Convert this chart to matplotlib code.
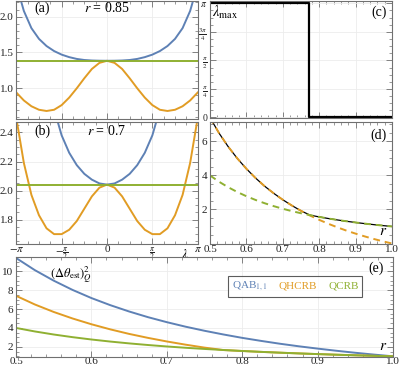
import matplotlib
matplotlib.use('Agg')
import matplotlib.pyplot as plt
import numpy as np
from matplotlib.ticker import MultipleLocator, FixedLocator, NullFormatter

plt.rcParams['font.family'] = ['Liberation Serif', 'DejaVu Serif']
plt.rcParams['mathtext.fontset'] = 'stix'

# --- data ---
# lambda grid in units of pi/12
lam_k = list(range(-12, 13))

# panel (a), r = 0.85  (values for lambda = 0 ... pi, mirrored)
a_qab_half = [1.384, 1.385, 1.388, 1.395, 1.41, 1.435, 1.47, 1.52, 1.59, 1.69, 1.84, 2.08, 2.45]
a_qhcrb_half = [1.384, 1.355, 1.27, 1.14, 1.00, 0.87, 0.765, 0.70, 0.683, 0.70, 0.749, 0.83, 0.941]
a_qcrb = 1.384

# panel (b), r = 0.7
b_qab_half = [2.041, 2.049, 2.075, 2.115, 2.175, 2.26, 2.38, 2.56, 2.8, 3.1, 3.5, 4.0, 4.6]
b_qhcrb_half = [2.041, 2.02, 1.96, 1.875, 1.79, 1.73, 1.70, 1.70, 1.74, 1.83, 1.97, 2.19, 2.50]
b_qcrb = 2.041

# r grid for (c), (d), (e)
r = [0.5, 0.525, 0.55, 0.575, 0.6, 0.625, 0.65, 0.675, 0.7, 0.725, 0.75, 0.775,
     0.8, 0.825, 0.85, 0.875, 0.9, 0.925, 0.95, 0.975, 1.0]
qcrb = [4.0, 3.628, 3.306, 3.025, 2.778, 2.56, 2.367, 2.195, 2.041, 1.902, 1.778, 1.665,
        1.5625, 1.469, 1.384, 1.306, 1.235, 1.169, 1.108, 1.052, 1.0]
holevo_pi = [7.40, 6.48, 5.69, 5.00, 4.39, 3.85, 3.37, 2.95, 2.57, 2.23, 1.92, 1.64,
             1.39, 1.16, 0.95, 0.755, 0.58, 0.417, 0.266, 0.128, 0.0]
qhcrb = [7.40, 6.48, 5.69, 5.00, 4.39, 3.85, 3.37, 2.95, 2.57, 2.23, 1.92, 1.665,
         1.5625, 1.469, 1.384, 1.306, 1.235, 1.169, 1.108, 1.052, 1.0]
qab = [11.40, 10.11, 9.00, 8.02, 7.16, 6.41, 5.74, 5.14, 4.61, 4.13, 3.70, 3.31,
       2.95, 2.63, 2.33, 2.06, 1.815, 1.586, 1.374, 1.18, 1.0]
# panel (c): lambda_max switches from pi to 0
r_switch = 0.772
c_r = [0.5, r_switch, r_switch, 1.0]
c_lmax = [np.pi, np.pi, 0.0, 0.0]

blue = '#5E81B5'
orange = '#E19C24'
green = '#8FB032'
frame = '#707070'

lam = np.array(lam_k) * np.pi / 12


def mirror(half):
    return np.array(half[:0:-1] + half)


W, H = 399, 367
fig = plt.figure(figsize=(W / 100, H / 100), dpi=100)


def box(l, t, rr, b):
    return fig.add_axes([l / W, 1 - b / H, (rr - l) / W, (b - t) / H])


def style(ax):
    for s in ax.spines.values():
        s.set_color(frame)
        s.set_linewidth(0.8)
    ax.tick_params(which='both', direction='in', top=True, right=True,
                   color=frame, labelsize=8, pad=2, labelcolor='#222222')
    ax.tick_params(which='major', length=4, width=0.6)
    ax.tick_params(which='minor', length=2, width=0.5)
    ax.grid(True, color='#ececec', lw=0.6)
    ax.set_axisbelow(True)


pi_ticks = [-np.pi, -np.pi / 2, 0, np.pi / 2, np.pi]
pi_labels = [r'$-\pi$', r'$-\frac{\pi}{2}$', '0', r'$\frac{\pi}{2}$', r'$\pi$']

# (a)
ax = box(16.3, 0.5, 197.7, 119)
style(ax)
ax.plot(lam, mirror(a_qab_half), color=blue, lw=1.4)
ax.plot(lam, mirror(a_qhcrb_half), color=orange, lw=1.4)
ax.axhline(a_qcrb, color=green, lw=1.4)
ax.set_xlim(-np.pi, np.pi)
ax.set_ylim(0.571, 2.226)
ax.xaxis.set_major_locator(FixedLocator(pi_ticks))
ax.xaxis.set_minor_locator(MultipleLocator(np.pi / 8))
ax.xaxis.set_major_formatter(NullFormatter())
ax.yaxis.set_major_locator(MultipleLocator(0.5))
ax.yaxis.set_minor_locator(MultipleLocator(0.1))
ax.yaxis.set_major_formatter(matplotlib.ticker.FormatStrFormatter('%.1f'))
ax.text(0.1, 0.905, '(a)', transform=ax.transAxes, fontsize=10)
ax.text(0.5, 0.905, r'$r$ = 0.85', transform=ax.transAxes, fontsize=10, ha='center')

# (b)
ax = box(16.3, 122, 197.7, 244)
style(ax)
ax.plot(lam, mirror(b_qab_half), color=blue, lw=1.4)
ax.plot(lam, mirror(b_qhcrb_half), color=orange, lw=1.4)
ax.axhline(b_qcrb, color=green, lw=1.4)
ax.set_xlim(-np.pi, np.pi)
ax.set_ylim(1.632, 2.472)
ax.set_xticks(pi_ticks, pi_labels)
ax.xaxis.set_minor_locator(MultipleLocator(np.pi / 8))
ax.yaxis.set_major_locator(MultipleLocator(0.2))
ax.yaxis.set_minor_locator(MultipleLocator(0.05))
ax.yaxis.set_major_formatter(matplotlib.ticker.FormatStrFormatter('%.1f'))
ax.tick_params(axis='x', pad=1)
ax.text(0.1, 0.895, '(b)', transform=ax.transAxes, fontsize=10)
ax.text(0.5, 0.895, r'$r$ = 0.7', transform=ax.transAxes, fontsize=10, ha='center')
ax.text(0.93, -0.035, r'$\lambda$', transform=ax.transAxes, fontsize=9, ha='center', va='top')

# (c)
ax = box(210, 0.5, 392, 118.5)
style(ax)
ax.plot(c_r, c_lmax, color='black', lw=1.6)
ax.set_xlim(0.5, 1.0)
ax.set_ylim(-0.03, 3.22)
ax.xaxis.set_major_locator(MultipleLocator(0.1))
ax.xaxis.set_minor_locator(MultipleLocator(0.02))
ax.xaxis.set_major_formatter(NullFormatter())
ax.set_yticks([0, np.pi / 4, np.pi / 2, 3 * np.pi / 4, np.pi],
              ['0', r'$\frac{\pi}{4}$', r'$\frac{\pi}{2}$', r'$\frac{3\pi}{4}$', r'$\pi$'])
ax.yaxis.set_minor_locator(MultipleLocator(np.pi / 16))
ax.tick_params(axis='y', labelsize=7)
ax.text(0.01, 0.86, r'$\lambda_{\rm max}$', transform=ax.transAxes, fontsize=10.5)
ax.text(0.97, 0.87, '(c)', transform=ax.transAxes, fontsize=10, ha='right')

# (d)
ax = box(210, 122, 392, 243.5)
style(ax)
ax.plot(r, qhcrb, color='black', lw=0.9)
ax.plot(r, holevo_pi, color=orange, lw=1.4, dashes=(3.5, 2.5))
ax.plot(r, qcrb, color=green, lw=1.4, dashes=(3.5, 2.5))
ax.set_xlim(0.5, 1.0)
ax.set_ylim(0, 7.14)
ax.xaxis.set_major_locator(MultipleLocator(0.1))
ax.xaxis.set_minor_locator(MultipleLocator(0.02))
ax.xaxis.set_major_formatter(matplotlib.ticker.FormatStrFormatter('%.1f'))
ax.tick_params(axis='x', pad=1)
ax.set_yticks([2, 4, 6], ['2', '4', '6'])
ax.yaxis.set_minor_locator(MultipleLocator(0.5))
ax.text(0.97, 0.86, '(d)', transform=ax.transAxes, fontsize=10, ha='right')
ax.text(0.975, 0.07, r'$r$', transform=ax.transAxes, fontsize=11, ha='right')

# (e)
ax = box(16, 257, 393, 356.5)
style(ax)
ax.plot(r, qab, color=blue, lw=1.4, label=r'QAB$_{1,1}$')
ax.plot(r, qhcrb, color=orange, lw=1.4, label='QHCRB')
ax.plot(r, qcrb, color=green, lw=1.4, label='QCRB')
ax.set_xlim(0.5, 1.0)
ax.set_ylim(0.98, 11.5)
ax.xaxis.set_major_locator(MultipleLocator(0.1))
ax.xaxis.set_minor_locator(MultipleLocator(0.02))
ax.xaxis.set_major_formatter(matplotlib.ticker.FormatStrFormatter('%.1f'))
ax.tick_params(axis='x', pad=0.5)
ax.set_yticks([2, 4, 6, 8, 10], ['2', '4', '6', '8', '10'])
ax.yaxis.set_minor_locator(MultipleLocator(0.5))
ax.text(0.09, 0.79, r'$(\Delta\theta_{\rm est})^2_Q$', transform=ax.transAxes, fontsize=9)
ax.text(0.975, 0.85, '(e)', transform=ax.transAxes, fontsize=10, ha='right')
ax.text(0.985, 0.07, r'$r$', transform=ax.transAxes, fontsize=11, ha='right')
leg = ax.legend(loc='upper left', bbox_to_anchor=(0.562, 0.81), ncol=3, handlelength=0,
                handletextpad=0, columnspacing=1.0, labelcolor='linecolor', fontsize=8,
                fancybox=False, borderpad=0.35, borderaxespad=0)
leg.get_frame().set_edgecolor('#333333')
leg.get_frame().set_linewidth(0.8)
for h in leg.legend_handles:
    h.set_visible(False)

fig.savefig('out.png', dpi=100)
